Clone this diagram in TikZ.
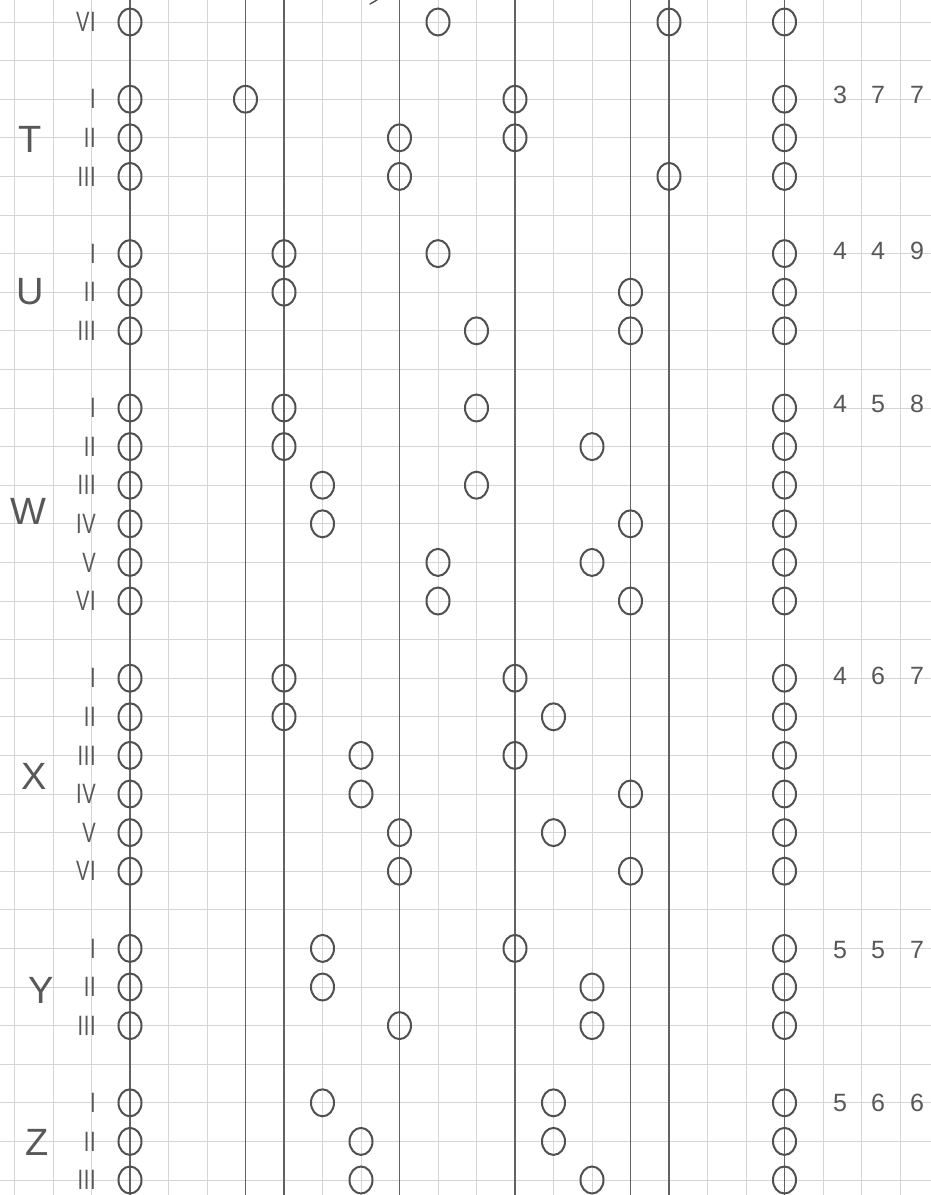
\documentclass[tikz,border=0pt]{standalone}
\usepackage{fontspec}
\setmainfont{Liberation Sans}
\usepackage{graphicx}
\usetikzlibrary{shapes.geometric}
\definecolor{pencil}{HTML}{505050}
\definecolor{ruled}{HTML}{626262}
\definecolor{gridc}{HTML}{D5D5D5}
\definecolor{inkt}{HTML}{585858}
\tikzset{
  bead/.style={ellipse, draw=pencil, line width=2pt, minimum width=23pt, minimum height=27pt, inner sep=0pt},
  rowlab/.style={anchor=east, text=inkt, inner sep=0pt, font=\fontsize{28}{28}\selectfont},
  grouplab/.style={text=inkt, inner sep=0pt, font=\fontsize{38}{38}\selectfont},
  gaplab/.style={text=inkt, inner sep=0pt, font=\fontsize{25}{25}\selectfont},
  gridline/.style={draw=gridc, line width=0.8pt},
  stringline/.style={draw=ruled, line width=1.2pt}
}
\begin{document}
\begin{tikzpicture}[x=1pt,y=-1pt]
\useasboundingbox (0,0) rectangle (931,1195);
\fill[white] (0,0) rectangle (931,1195);
% graph paper
\foreach \k in {-3,...,20} {
  \draw[gridline] ({130+\k*38.5},0) -- ({130+\k*38.5},1195);
}
\foreach \j in {0,...,30} {
  \draw[gridline] (0,{22+\j*38.6}) -- (931,{22+\j*38.6});
}
% ruled strings
\foreach \k in {0,3,4,7,10,13,14,17} {
  \coordinate (top\k) at ({130+\k*38.5},0);
  \coordinate (bot\k) at ({130+\k*38.5},1195);
  \draw[stringline] (top\k) -- (bot\k);
}
% fragment at top edge
\draw[pencil, line width=1.4pt, line cap=round] (370,4) -- (377,0);
% rows
\foreach \j/\lab/\a/\b in {0/V\kern1pt I/8/14, 2/I/3/10, 3/I\kern1pt I/7/10, 4/I\kern1pt I\kern1pt I/7/14,
  6/I/4/8, 7/I\kern1pt I/4/13, 8/I\kern1pt I\kern1pt I/9/13,
  10/I/4/9, 11/I\kern1pt I/4/12, 12/I\kern1pt I\kern1pt I/5/9, 13/I\kern1pt V/5/13, 14/V/8/12, 15/V\kern1pt I/8/13,
  17/I/4/10, 18/I\kern1pt I/4/11, 19/I\kern1pt I\kern1pt I/6/10, 20/I\kern1pt V/6/13, 21/V/7/11, 22/V\kern1pt I/7/13,
  24/I/5/10, 25/I\kern1pt I/5/12, 26/I\kern1pt I\kern1pt I/7/12,
  28/I/5/11, 29/I\kern1pt I/6/11, 30/I\kern1pt I\kern1pt I/6/12} {
  \node[bead] (b\j-0) at (130,{22+\j*38.6}) {};
  \node[bead] (b\j-\a) at ({130+\a*38.5},{22+\j*38.6}) {};
  \node[bead] (b\j-\b) at ({130+\b*38.5},{22+\j*38.6}) {};
  \node[bead] (b\j-17) at ({130+17*38.5},{22+\j*38.6}) {};
  \node[rowlab] (lab\j) at (96,{22+\j*38.6}) {\scalebox{0.72}[1]{\lab}};
}
% group letters
\node[grouplab] (gT) at (30,139) {T};
\node[grouplab] (gU) at (30,292) {U};
\node[grouplab] (gW) at (28,511) {W};
\node[grouplab] (gX) at (34,776) {X};
\node[grouplab] (gY) at (41,990) {Y};
\node[grouplab] (gZ) at (37,1142) {Z};
% gap numbers
\foreach \y/\p/\q/\r/\n in {95/3/7/7/T, 251/4/4/9/U, 404/4/5/8/W, 676/4/6/7/X, 950/5/5/7/Y, 1103/5/6/6/Z} {
  \node[gaplab] (n\n a) at (840,\y) {\p};
  \node[gaplab] (n\n b) at (878,\y) {\q};
  \node[gaplab] (n\n c) at (917,\y) {\r};
}
\end{tikzpicture}
\end{document}
